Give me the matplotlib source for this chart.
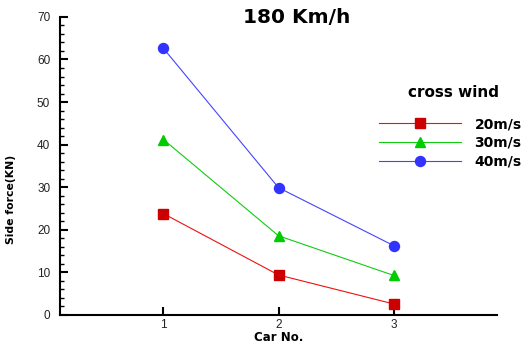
import matplotlib.pyplot as plt
from matplotlib.ticker import MultipleLocator

plt.rcParams['font.family'] = ['Liberation Sans', 'DejaVu Sans']

cars = [1, 2, 3]
wind_labels = ["20m/s", "30m/s", "40m/s"]
force_20 = [23.8, 9.4, 2.6]
force_30 = [41.2, 18.6, 9.3]
force_40 = [62.6, 29.9, 16.3]

fig = plt.figure(figsize=(5.3, 3.45), dpi=100)
ax = fig.add_axes([0.113, 0.087, 0.825, 0.864])

ax.plot(cars, force_20, color="#ee1111", lw=0.8, marker="s", ms=7,
        mfc="#cc0000", mec="#cc0000", label=wind_labels[0])
ax.plot(cars, force_30, color="#11cc11", lw=0.8, marker="^", ms=7.5,
        mfc="#00cc00", mec="#00cc00", label=wind_labels[1])
ax.plot(cars, force_40, color="#4444ff", lw=0.8, marker="o", ms=7.2,
        mfc="#3333ff", mec="#3333ff", label=wind_labels[2])

ax.set_xlim(0.1, 3.9)
ax.set_ylim(0, 70)
ax.set_xticks(cars)
ax.yaxis.set_major_locator(MultipleLocator(10))
ax.yaxis.set_minor_locator(MultipleLocator(2))
ax.tick_params(axis="both", direction="in", labelsize=8.5, labelcolor="#222222",
               width=1.5, length=6, pad=3)
ax.tick_params(axis="y", pad=7)
ax.tick_params(axis="y", which="minor", direction="in", width=1, length=3)
ax.spines["top"].set_visible(False)
ax.spines["right"].set_visible(False)
ax.spines["left"].set_linewidth(1.5)
ax.spines["bottom"].set_linewidth(1.5)

ax.set_xlabel("Car No.", fontsize=8.5, fontweight="bold", family="DejaVu Sans")
ax.xaxis.set_label_coords(0.5, -0.053)
ax.set_ylabel("Side force(KN)", fontsize=7.8, fontweight="bold", family="DejaVu Sans")
ax.yaxis.set_label_coords(-0.1, 0.386)
fig.text(0.56, 0.948, "180 Km/h", fontsize=14.5, fontweight="bold",
         family="DejaVu Sans", ha="center", va="center")
fig.text(0.855, 0.733, "cross wind", fontsize=11, fontweight="bold",
         family="DejaVu Sans", ha="center", va="center")

leg = ax.legend(loc="upper left", bbox_to_anchor=(0.729, 0.663),
                frameon=False, handlelength=5.9, labelspacing=0.33,
                handletextpad=1.0, borderpad=0, borderaxespad=0,
                prop={"family": "DejaVu Sans", "weight": "bold", "size": 10})

fig.savefig("out.png", dpi=100)
